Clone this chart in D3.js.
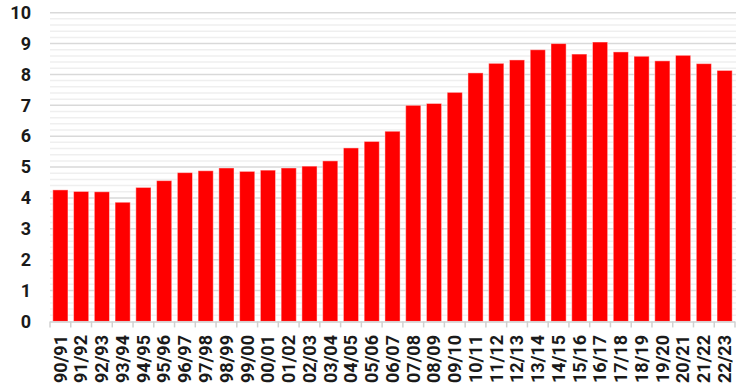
<!DOCTYPE html>
<html>
<head>
<meta charset="utf-8">
<script src="https://cdn.jsdelivr.net/npm/d3@7"></script>
<style>
  html, body { margin: 0; padding: 0; background: #fff; }
  svg { display: block; }
  text { font-family: Roboto, "Noto Sans", sans-serif; font-weight: 700; fill: #1a1a1a; }
</style>
</head>
<body>
<svg id="chart" width="736" height="389"></svg>
<script>
const seasons = ["90/91","91/92","92/93","93/94","94/95","95/96","96/97","97/98","98/99","99/00",
  "00/01","01/02","02/03","03/04","04/05","05/06","06/07","07/08","08/09","09/10",
  "10/11","11/12","12/13","13/14","14/15","15/16","16/17","17/18","18/19","19/20",
  "20/21","21/22","22/23"];
const values = [4.26, 4.21, 4.20, 3.86, 4.34, 4.56, 4.82, 4.88, 4.97, 4.86,
  4.90, 4.97, 5.03, 5.20, 5.62, 5.83, 6.16, 7.00, 7.06, 7.42,
  8.05, 8.36, 8.47, 8.80, 9.00, 8.66, 9.05, 8.73, 8.59, 8.44,
  8.62, 8.35, 8.13];
const yTicks = [0, 1, 2, 3, 4, 5, 6, 7, 8, 9, 10];

const svg = d3.select("#chart");
const plotLeft = 50, plotRight = 735, plotTop = 12.7, plotBottom = 321.4;

const padIn = 0.27, padOut = 0.135;
const x = d3.scaleBand().domain(seasons).range([plotLeft, plotRight])
  .paddingInner(padIn).paddingOuter(padOut);
const y = d3.scaleLinear().domain([0, 10]).range([plotBottom, plotTop]);

// minor gridlines every 0.2
const minor = d3.range(0, 10.001, 0.2).filter(v => Math.abs(v - Math.round(v)) > 1e-6);
svg.append("g").selectAll("line").data(minor).join("line")
  .attr("x1", plotLeft).attr("x2", 736)
  .attr("y1", d => y(d)).attr("y2", d => y(d))
  .attr("stroke", "#efefef").attr("stroke-width", 1.5);

// major gridlines
svg.append("g").selectAll("line").data(yTicks.filter(d => d > 0)).join("line")
  .attr("x1", plotLeft).attr("x2", 736)
  .attr("y1", d => y(d)).attr("y2", d => y(d))
  .attr("stroke", "#d9d9d9").attr("stroke-width", 1.5);

// y axis labels
svg.append("g").selectAll("text").data(yTicks).join("text")
  .attr("x", 31).attr("y", d => y(d)).attr("dy", "0.35em")
  .attr("text-anchor", "end").attr("font-size", 18)
  .text(d => d);

// bars
svg.append("g").selectAll("rect").data(seasons).join("rect")
  .attr("x", d => x(d))
  .attr("width", x.bandwidth())
  .attr("y", (d, i) => y(values[i]))
  .attr("height", (d, i) => y(0) - y(values[i]))
  .attr("fill", "#ff0000")
  .attr("stroke", "rgba(255,255,255,0.45)").attr("stroke-width", 1);

// x axis baseline and category boundary ticks
const step = x.step();
const bounds = seasons.map(d => x(d) - step * padIn / 2).concat([plotRight]);
svg.append("line")
  .attr("x1", plotLeft).attr("x2", plotRight).attr("y1", plotBottom + 0.5).attr("y2", plotBottom + 0.5)
  .attr("stroke", "#d0d0d0").attr("stroke-width", 1.5);
svg.append("g").selectAll("line").data(bounds).join("line")
  .attr("x1", d => d).attr("x2", d => d)
  .attr("y1", plotBottom).attr("y2", plotBottom + 6)
  .attr("stroke", "#d0d0d0").attr("stroke-width", 1.5);

// rotated category labels
svg.append("g").selectAll("text").data(seasons).join("text")
  .attr("transform", d => `translate(${x(d) + x.bandwidth() / 2},335) rotate(-90)`)
  .attr("dy", "0.35em")
  .attr("text-anchor", "end").attr("font-size", 18)
  .text(d => d);
</script>
</body>
</html>
